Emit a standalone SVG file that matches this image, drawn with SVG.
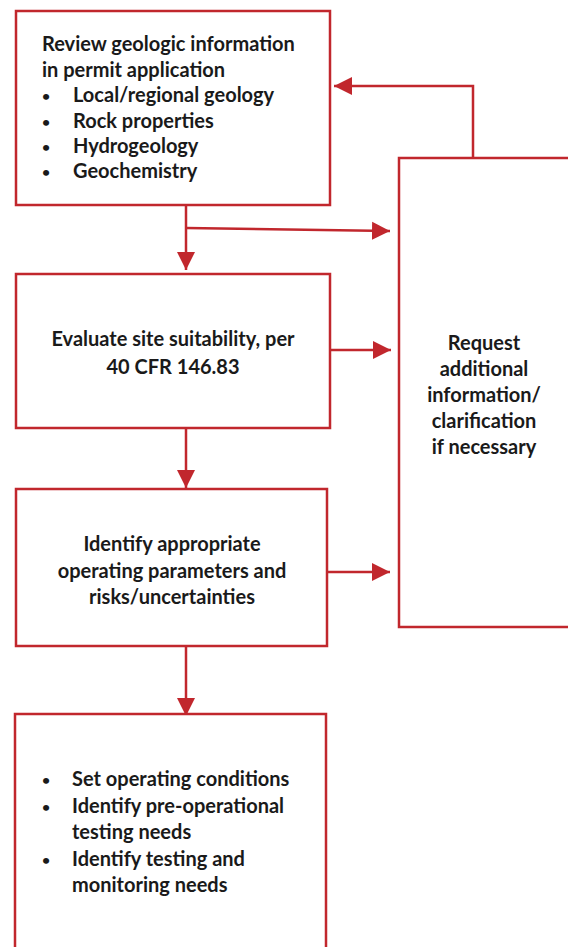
<svg xmlns="http://www.w3.org/2000/svg" width="568" height="947" viewBox="0 0 568 947">
<style>
.box{fill:#fff;stroke:#C1272D;stroke-width:2.5}
.ln{fill:none;stroke:#C1272D;stroke-width:2.5}
.t{font-family:Lato,"Liberation Sans",sans-serif;font-weight:700;font-size:20px;fill:#1a1a1a}
.b{font-family:Lato,"Liberation Sans",sans-serif;font-weight:700;font-size:14px;fill:#1a1a1a}
.c{text-anchor:middle}
</style>
<defs>
<marker id="ah" markerUnits="userSpaceOnUse" markerWidth="20" markerHeight="20" viewBox="0 0 20 20" refX="18" refY="10" orient="auto">
<path d="M0,1 L18,10 L0,19 Z" fill="#C1272D"/>
</marker>
</defs>
<g id="connectors">
<path class="ln" d="M186,205 V270" marker-end="url(#ah)"/>
<path class="ln" d="M186,228 L390,231" marker-end="url(#ah)"/>
<path class="ln" d="M330,350 H391" marker-end="url(#ah)"/>
<path class="ln" d="M186,428 V488" marker-end="url(#ah)"/>
<path class="ln" d="M327,572 H390" marker-end="url(#ah)"/>
<path class="ln" d="M186,646 V716" stroke-width="3.5" marker-end="url(#ah)"/>
<path class="ln" d="M473,157 V86 H334" marker-end="url(#ah)"/>
</g>
<g id="n1">
<rect class="box" x="16" y="11" width="314" height="194"/>
<text class="t" x="42" y="51">Review geologic information</text>
<text class="t" x="42" y="77">in permit application</text>
<text class="b" x="42" y="101">•</text><text class="t" x="73" y="102">Local/regional geology</text>
<text class="b" x="42" y="127">•</text><text class="t" x="73" y="128">Rock properties</text>
<text class="b" x="42" y="152">•</text><text class="t" x="73" y="153">Hydrogeology</text>
<text class="b" x="42" y="177">•</text><text class="t" x="73" y="178">Geochemistry</text>
</g>
<g id="n2">
<rect class="box" x="16" y="274" width="314" height="154"/>
<text class="t c" x="173" y="346">Evaluate site suitability, per</text>
<text class="t c" x="173" y="374">40 CFR 146.83</text>
</g>
<g id="n3">
<rect class="box" x="16" y="489" width="311" height="157"/>
<text class="t c" x="172" y="551">Identify appropriate</text>
<text class="t c" x="172" y="578">operating parameters and</text>
<text class="t c" x="172" y="604">risks/uncertainties</text>
</g>
<g id="n4">
<rect class="box" x="15" y="714" width="311" height="250"/>
<text class="b" x="42" y="785">•</text><text class="t" x="72" y="786">Set operating conditions</text>
<text class="b" x="42" y="812">•</text><text class="t" x="72" y="813">Identify pre-operational</text>
<text class="t" x="72" y="839">testing needs</text>
<text class="b" x="42" y="865">•</text><text class="t" x="72" y="866">Identify testing and</text>
<text class="t" x="72" y="892">monitoring needs</text>
</g>
<g id="n5">
<rect class="box" x="399" y="158" width="180" height="469"/>
<text class="t c" x="484" y="350">Request</text>
<text class="t c" x="484" y="376">additional</text>
<text class="t c" x="484" y="402">information/</text>
<text class="t c" x="484" y="428">clarification</text>
<text class="t c" x="484" y="454">if necessary</text>
</g>
</svg>
